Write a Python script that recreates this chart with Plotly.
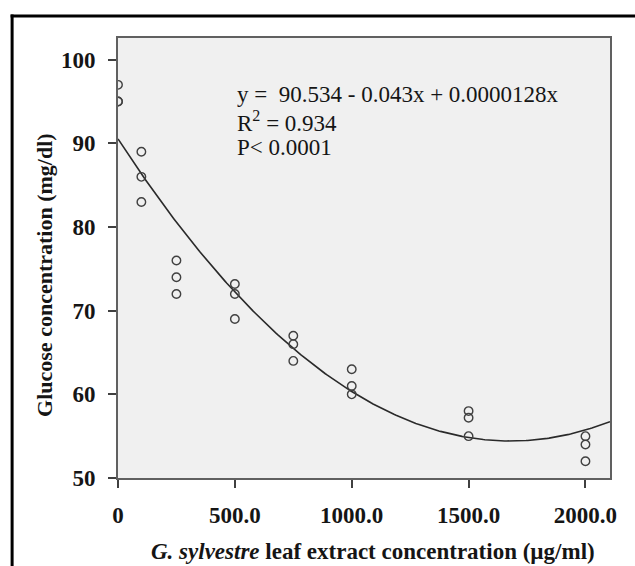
import plotly.graph_objects as go
import numpy as np

# Data
conc = [0, 0, 0, 100, 100, 100, 250, 250, 250, 500, 500, 500,
        750, 750, 750, 1000, 1000, 1000, 1500, 1500, 1500, 2000, 2000, 2000]
glucose = [97, 95, 95, 89, 86, 83, 76, 74, 72, 73.2, 72, 69,
           67, 66, 64, 63, 61, 60, 58, 57.2, 55, 55, 54, 52]

# Quadratic fit coefficients printed on chart
fit_coef = [90.534, -0.043, 0.0000128]

x_tickvals = [0, 500, 1000, 1500, 2000]
x_ticktext = ["0", "500.0", "1000.0", "1500.0", "2000.0"]
y_tickvals = [50, 60, 70, 80, 90, 100]

eq_lines = ["y =  90.534 - 0.043x + 0.0000128x", "R<sup>2</sup> = 0.934", "P< 0.0001"]
x_title = "<i>G. sylvestre</i> leaf extract concentration (µg/ml)"
y_title = "Glucose concentration (mg/dl)"

x_range = [0, 2105]
y_range = [50, 102.6]

xf = np.linspace(x_range[0], x_range[1], 300)
yf = fit_coef[0] + fit_coef[1] * xf + fit_coef[2] * xf ** 2

SERIF = "Liberation Serif, Times New Roman, serif"
INK = "#151515"

# body margin removed by post_script, figure fills the window
OFF = 0
W, H = 635, 566
L, T = 118, 38
R = W - 610.5
B = H - 478.3
pw, ph = W - L - R, H - T - B


def px_x(page_x):
    return (page_x - OFF - L) / pw


def px_y(page_y):
    return (H - B - (page_y - OFF)) / ph


fig = go.Figure()
fig.add_trace(go.Scatter(x=xf, y=yf, mode="lines",
                         line=dict(color="#2a2a2a", width=1.6),
                         hoverinfo="skip", showlegend=False))
fig.add_trace(go.Scatter(x=conc, y=glucose, mode="markers",
                         marker=dict(symbol="circle-open", size=8.5,
                                     color="#404040", line=dict(width=1.4)),
                         showlegend=False, cliponaxis=True))

ann_y = [95.85, 92.6, 89.5]
for txt, yy in zip(eq_lines, ann_y):
    fig.add_annotation(x=500, y=yy, xref="x", yref="y", text=txt,
                       showarrow=False, xanchor="left", yanchor="middle",
                       font=dict(family=SERIF, size=23, color=INK))

# axis titles
fig.add_annotation(x=px_x(373), y=px_y(552), xref="paper", yref="paper",
                   text=x_title, showarrow=False, xanchor="center", yanchor="middle",
                   font=dict(family=SERIF, size=23, color=INK, weight="bold"))
fig.add_annotation(x=px_x(45), y=px_y(275), xref="paper", yref="paper",
                   text=y_title, showarrow=False, xanchor="center", yanchor="middle",
                   textangle=-90,
                   font=dict(family=SERIF, size=22, color=INK, weight="bold"))

# Outer black frame: only left and top edges fall inside the page
fig.add_shape(type="line", xref="paper", yref="paper",
              x0=px_x(12), x1=px_x(12), y0=px_y(600), y1=px_y(14.5),
              line=dict(color="black", width=3), layer="below")
fig.add_shape(type="line", xref="paper", yref="paper",
              x0=px_x(10.5), x1=px_x(700), y0=px_y(16), y1=px_y(16),
              line=dict(color="black", width=3), layer="below")

fig.update_layout(
    width=W, height=H,
    margin=dict(l=L, r=R, t=T, b=B, pad=0),
    paper_bgcolor="white",
    plot_bgcolor="#f0f0f0",
    font=dict(family=SERIF, color=INK),
    xaxis=dict(range=x_range, tickvals=x_tickvals, ticktext=x_ticktext,
               showgrid=False, zeroline=False,
               showline=True, mirror=True, linecolor="#606060", linewidth=2,
               ticks="outside", ticklen=8, tickwidth=1.5, tickcolor="#404040",
               ticklabelstandoff=7,
               tickfont=dict(family=SERIF, size=23, color=INK, weight="bold")),
    yaxis=dict(range=y_range, tickvals=y_tickvals,
               showgrid=False, zeroline=False,
               showline=True, mirror=True, linecolor="#606060", linewidth=2,
               ticks="outside", ticklen=8, tickwidth=1.5, tickcolor="#404040",
               ticklabelstandoff=8,
               tickfont=dict(family=SERIF, size=23, color=INK, weight="bold")),
)

fig.write_html(
    "out.html",
    config={"displayModeBar": False},
    post_script="document.body.style.margin='0';document.body.style.overflow='hidden';",
)
